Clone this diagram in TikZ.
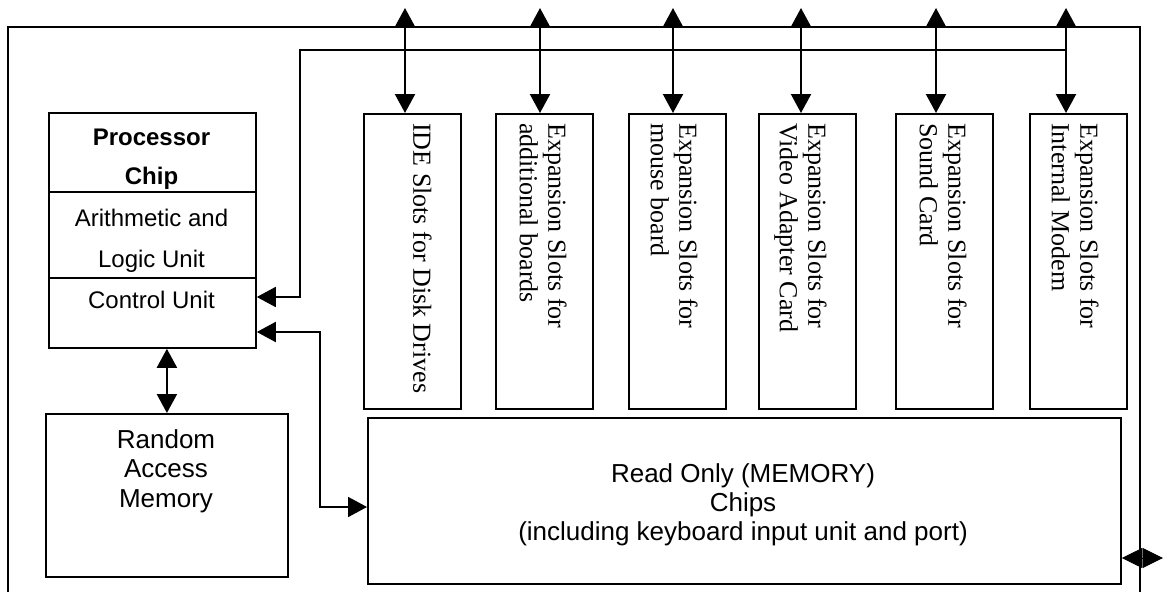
\documentclass[tikz,border=0pt]{standalone}
\usepackage{fontspec}
\setmainfont{Liberation Sans}
\newfontfamily\tnr{Liberation Serif}
\usetikzlibrary{arrows.meta}
\begin{document}
\begin{tikzpicture}[x=1pt,y=-1pt,
  frame/.style={line width=2.2pt},
  box/.style={draw, line width=1.8pt, inner sep=0pt, anchor=north west},
  dbl/.style={{Triangle[length=19pt,width=20pt]}-{Triangle[length=19pt,width=20pt]}, line width=2.2pt},
  single/.style={-{Triangle[length=19pt,width=20pt]}, line width=1.8pt},
  vtext/.style={rotate=-90, anchor=north west, align=left, inner sep=0pt, font=\tnr\fontsize{26}{28.5}\selectfont},
  ptext/.style={anchor=base, inner sep=0pt, font=\fontsize{24}{28}\selectfont},
  mtext/.style={anchor=base, inner sep=0pt, font=\fontsize{26}{30}\selectfont}]
\useasboundingbox (0,0) rectangle (1164,592);

% outer frame
\coordinate (fbl) at (8,592);
\coordinate (ftl) at (8,27);
\coordinate (ftr) at (1140,27);
\coordinate (fbr) at (1140,592);
\draw[frame] (fbl) -- (ftl) -- (ftr) -- (fbr);

% processor chip
\node[box, minimum width=207pt, minimum height=235pt] (proc) at (48,112) {};
\draw[line width=1.6pt] ([yshift=-80pt]proc.north west) -- ([yshift=-80pt]proc.north east);
\draw[line width=1.6pt] ([yshift=-166pt]proc.north west) -- ([yshift=-166pt]proc.north east);
\node[ptext, font=\bfseries\fontsize{24}{28}\selectfont] (p1) at (151.5,145) {Processor};
\node[ptext, font=\bfseries\fontsize{24}{28}\selectfont] (p2) at (151.5,184) {Chip};
\node[ptext] (p3) at (151.5,226) {Arithmetic and};
\node[ptext] (p4) at (151.5,267) {Logic Unit};
\node[ptext] (p5) at (151.5,308) {Control Unit};

% RAM
\node[box, minimum width=242pt, minimum height=163pt] (ram) at (45,413) {};
\node[mtext] (r1) at (166,448) {Random};
\node[mtext] (r2) at (166,477.5) {Access};
\node[mtext] (r3) at (166,507) {Memory};

% ROM
\node[box, minimum width=753pt, minimum height=166pt] (rom) at (367,417) {};
\node[mtext] (o1) at (743,482) {Read Only (MEMORY)};
\node[mtext] (o2) at (743,511) {Chips};
\node[mtext] (o3) at (743,540) {(including keyboard input unit and port)};

% slots
\node[box, minimum width=97pt, minimum height=295pt] (s1) at (363,113) {};
\node[box, minimum width=97pt, minimum height=295pt] (s2) at (495,113) {};
\node[box, minimum width=97pt, minimum height=295pt] (s3) at (628,113) {};
\node[box, minimum width=97pt, minimum height=295pt] (s4) at (758,113) {};
\node[box, minimum width=97pt, minimum height=295pt] (s5) at (895,113) {};
\node[box, minimum width=97pt, minimum height=295pt] (s6) at (1029,113) {};

\node[vtext] (l1) at ([shift={(-30,10)}]s1.north east) {IDE Slots for Disk Drives};
\node[vtext] (l2) at ([shift={(-27,10)}]s2.north east) {Expansion Slots for\\additional boards};
\node[vtext] (l3) at ([shift={(-29,10)}]s3.north east) {Expansion Slots for\\mouse board};
\node[vtext] (l4) at ([shift={(-30,10)}]s4.north east) {Expansion Slots for\\Video Adapter Card};
\node[vtext] (l5) at ([shift={(-27,10)}]s5.north east) {Expansion Slots for\\Sound Card};
\node[vtext] (l6) at ([shift={(-29,10)}]s6.north east) {Expansion Slots for\\Internal Modem};

% top bus arrows
\coordinate (t1) at (405,8);
\coordinate (t2) at (540,8);
\coordinate (t3) at (673,8);
\coordinate (t4) at (801,8);
\coordinate (t5) at (936,8);
\coordinate (t6) at (1066,8);
\draw[dbl] (t1) -- (t1 |- s1.north);
\draw[dbl] (t2) -- (t2 |- s2.north);
\draw[dbl] (t3) -- (t3 |- s3.north);
\draw[dbl] (t4) -- (t4 |- s4.north);
\draw[dbl] (t5) -- (t5 |- s5.north);
\draw[dbl] (t6) -- (t6 |- s6.north);

% inner bus to control unit
\coordinate (bR) at (1066,50);
\coordinate (bL) at (300,50);
\path (proc.north east) ++(0,185) coordinate (cu);
\draw[single] (bR) -- (bL) |- (cu);

% control unit <-> ROM
\path (proc.north east) ++(0,220) coordinate (cu2);
\path (rom.north west) ++(0,90) coordinate (rw);
\draw[dbl, line width=1.8pt] (cu2) -- ++(63,0) |- (rw);

% processor <-> RAM
\draw[dbl] (ram.north |- proc.south) -- (ram.north);

% ROM <-> frame
\path (rom.north east) ++(0,141) coordinate (re);
\coordinate (rx) at (1163,558);
\draw[{Triangle[length=20.5pt,width=20pt]}-{Triangle[length=20.5pt,width=20pt]}, line width=1pt] (re) -- (rx);
\end{tikzpicture}
\end{document}
